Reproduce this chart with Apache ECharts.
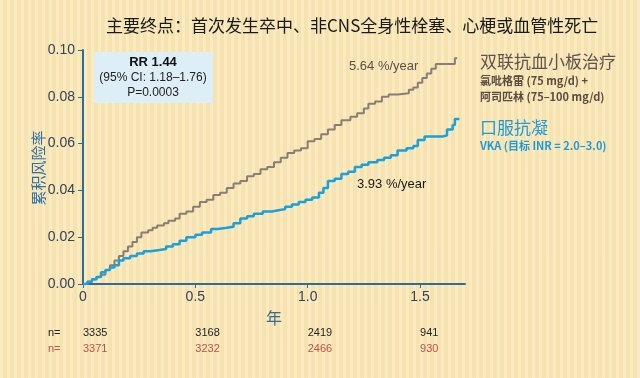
<!DOCTYPE html>
<html><head><meta charset="utf-8">
<script src="https://cdn.jsdelivr.net/npm/echarts@6/dist/echarts.min.js"></script>
<style>
html,body{margin:0;padding:0;}
body{width:640px;height:378px;overflow:hidden;
background-color:#F9E6B4;
background-image:repeating-linear-gradient(90deg, rgba(255,255,255,0.18) 0px, rgba(255,255,255,0.18) 3px, rgba(200,170,100,0.06) 3px, rgba(200,170,100,0.06) 7px);}
#c{width:640px;height:378px;}
</style></head>
<body><div id="c"></div>
<script>
// ---- data ----
const title = '主要终点：首次发生卒中、非CNS全身性栓塞、心梗或血管性死亡';
const yName = '累积风险率';
const yTicks = [0, 0.02, 0.04, 0.06, 0.08, 0.10];
const xTicks = [0, 0.5, 1.0, 1.5];
const daptName = '双联抗血小板治疗';
const vkaName = '口服抗凝';
const daptRate = '5.64 %/year';
const vkaRate = '3.93 %/year';
const daptT = [0,0.02,0.04,0.06,0.08,0.10,0.12,0.14,0.16,0.18,0.20,0.22,0.24,0.26,0.29,0.31,0.33,0.36,0.38,0.41,0.43,0.46,0.49,0.52,0.55,0.58,0.61,0.64,0.67,0.70,0.73,0.76,0.79,0.82,0.85,0.88,0.91,0.94,0.97,1.00,1.03,1.06,1.09,1.12,1.15,1.19,1.22,1.25,1.27,1.30,1.33,1.36,1.40,1.45,1.47,1.49,1.51,1.53,1.55,1.57,1.655,1.665];
const daptV = [0,0.001,0.002,0.003,0.004,0.006,0.008,0.010,0.012,0.014,0.016,0.018,0.020,0.022,0.023,0.024,0.025,0.026,0.027,0.028,0.030,0.031,0.033,0.035,0.036,0.038,0.039,0.041,0.043,0.044,0.046,0.047,0.049,0.050,0.052,0.054,0.056,0.057,0.058,0.061,0.062,0.064,0.066,0.068,0.070,0.0715,0.073,0.075,0.077,0.078,0.080,0.081,0.0815,0.083,0.084,0.086,0.088,0.090,0.092,0.094,0.0965,0.0965];
const vkaT = [0,0.02,0.04,0.06,0.08,0.10,0.12,0.14,0.16,0.18,0.21,0.24,0.27,0.30,0.34,0.37,0.40,0.43,0.46,0.50,0.53,0.57,0.60,0.64,0.67,0.70,0.73,0.76,0.80,0.84,0.87,0.90,0.93,0.96,0.99,1.02,1.05,1.07,1.09,1.12,1.15,1.18,1.21,1.24,1.27,1.31,1.34,1.37,1.40,1.44,1.47,1.49,1.52,1.60,1.62,1.645,1.655,1.675];
const vkaV = [0,0.001,0.002,0.003,0.005,0.006,0.007,0.008,0.010,0.011,0.012,0.013,0.014,0.0145,0.015,0.016,0.017,0.0185,0.020,0.021,0.022,0.0235,0.024,0.0245,0.026,0.028,0.029,0.030,0.031,0.0315,0.032,0.033,0.034,0.035,0.036,0.037,0.039,0.041,0.044,0.045,0.047,0.048,0.050,0.051,0.052,0.053,0.054,0.055,0.057,0.058,0.059,0.0615,0.063,0.0635,0.066,0.068,0.0705,0.0705];
const nAt = [0, 0.5, 1.0, 1.5];
const nDapt = [3335, 3168, 2419, 941];
const nVka = [3371, 3232, 2466, 930];

const axisBlue = '#2F6D99';
const grayLine = '#8A7E74';
const blueLine = '#1AA0DA';
const chart = echarts.init(document.getElementById('c'));
const opt = {
  animation:false,
  backgroundColor:'transparent',
  title:{text:title,left:101,top:12,textStyle:{fontSize:17,fontWeight:'normal',color:'#1a1a1a',fontFamily:'"Noto Sans CJK SC", sans-serif'}},
  grid:{left:83,right:175,top:50,bottom:94,containLabel:false},
  xAxis:{type:'value',min:0,max:1.7,interval:0.5,
    name:'年',nameLocation:'middle',nameGap:26,
    nameTextStyle:{fontSize:16,color:'#3E6A8C',fontFamily:'"Noto Sans CJK SC", sans-serif'},
    axisLine:{lineStyle:{color:axisBlue,width:2}},
    axisTick:{show:true,length:4,lineStyle:{color:axisBlue},customValues:xTicks},
    splitLine:{show:false},
    axisLabel:{fontSize:14,color:'#33435A',margin:6,fontFamily:'Liberation Sans, Arial',
      customValues:xTicks,
      formatter:v=> v===0?'0':v.toFixed(1)}},
  yAxis:{type:'value',min:0,max:0.1,interval:0.02,
    axisLine:{show:true,lineStyle:{color:axisBlue,width:2}},
    axisTick:{show:true,length:5,lineStyle:{color:axisBlue}},
    splitLine:{show:false},
    axisLabel:{fontSize:14,color:'#33435A',margin:8,fontFamily:'Liberation Sans, Arial',
      formatter:v=>v.toFixed(2)}},
  series:[
    {type:'line',step:'end',showSymbol:false,data:daptT.map((t,i)=>[t,daptV[i]]),
      lineStyle:{color:grayLine,width:2},z:3},
    {type:'line',step:'end',showSymbol:false,data:vkaT.map((t,i)=>[t,vkaV[i]]),
      lineStyle:{color:blueLine,width:2.5},z:4}
  ]
};
chart.setOption(opt);

const g = [];
// y axis name
g.push({type:'text',x:38,y:168,rotation:Math.PI/2,style:{text:yName,font:'15px "Noto Sans CJK SC"',fill:'#2F6EA5',align:'center',verticalAlign:'middle'},z:11});
// RR box
g.push({type:'rect',shape:{x:94,y:52,width:119,height:51},style:{fill:'#DDEEF6'},z:10});
g.push({type:'text',x:153,y:62,style:{text:'RR 1.44',font:'bold 13px Liberation Sans, Arial',fill:'#111',align:'center',verticalAlign:'middle'},z:11});
g.push({type:'text',x:153,y:78,style:{text:'(95% CI: 1.18–1.76)',font:'12px Liberation Sans, Arial',fill:'#222',align:'center',verticalAlign:'middle'},z:11});
g.push({type:'text',x:153,y:93,style:{text:'P=0.0003',font:'12px Liberation Sans, Arial',fill:'#222',align:'center',verticalAlign:'middle'},z:11});
// rate labels
g.push({type:'text',x:349,y:66,style:{text:daptRate,font:'13px Liberation Sans, Arial',fill:'#5a5048',align:'left',verticalAlign:'middle'},z:11});
g.push({type:'text',x:357,y:184,style:{text:vkaRate,font:'13px Liberation Sans, Arial',fill:'#1a1a1a',align:'left',verticalAlign:'middle'},z:11});
// legends
g.push({type:'text',x:480,y:62,style:{text:daptName,font:'17px "Noto Sans CJK SC"',fill:'#5E534C',align:'left',verticalAlign:'middle'},z:11});
g.push({type:'text',x:480,y:81,style:{text:'氯吡格雷 (75 mg/d) +',font:'bold 11px "Noto Sans CJK SC"',fill:'#5A4A40',align:'left',verticalAlign:'middle'},z:11});
g.push({type:'text',x:480,y:97,style:{text:'阿司匹林 (75–100 mg/d)',font:'bold 11px "Noto Sans CJK SC"',fill:'#5A4A40',align:'left',verticalAlign:'middle'},z:11});
g.push({type:'text',x:480,y:128,style:{text:vkaName,font:'17px "Noto Sans CJK SC"',fill:'#1E9BD7',align:'left',verticalAlign:'middle'},z:11});
g.push({type:'text',x:480,y:146,style:{text:'VKA (目标 INR = 2.0–3.0)',font:'bold 11px "Noto Sans CJK SC"',fill:'#1E9BD7',align:'left',verticalAlign:'middle'},z:11});
// n= rows
g.push({type:'text',x:48,y:333,style:{text:'n=',font:'11px Liberation Sans, Arial',fill:'#222',verticalAlign:'middle'},z:11});
g.push({type:'text',x:48,y:349,style:{text:'n=',font:'11px Liberation Sans, Arial',fill:'#C0504D',verticalAlign:'middle'},z:11});
nAt.forEach((t,i)=>{
  const px = chart.convertToPixel({gridIndex:0},[t,0])[0];
  g.push({type:'text',x:px,y:333,style:{text:String(nDapt[i]),font:'11px Liberation Sans, Arial',fill:'#222',verticalAlign:'middle'},z:11});
  g.push({type:'text',x:px,y:349,style:{text:String(nVka[i]),font:'11px Liberation Sans, Arial',fill:'#C0504D',verticalAlign:'middle'},z:11});
});
chart.setOption({graphic:g});
</script>
</body></html>
